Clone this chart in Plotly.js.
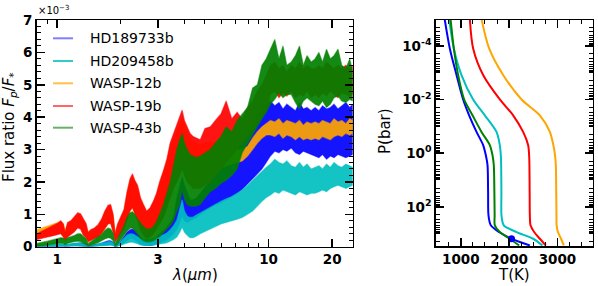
<!DOCTYPE html>
<html><head><meta charset="utf-8">
<script src="https://cdn.plot.ly/plotly-3.0.1.min.js"></script>
<style>html,body{margin:0;padding:0;background:#fff;} #plot{width:598px;height:286px;}</style>
</head><body><div id="plot"></div>
<script>
// ---- Left panel: emission spectra (flux ratio in units of 1e-3), lower/upper envelope of noisy spectra
const wavelength = [0.80,0.85,0.90,0.95,1.00,1.04,1.07,1.09,1.12,1.16,1.20,
 1.25,1.29,1.33,1.37,1.40,1.44,1.50,1.56,1.62,1.68,1.74,
 1.79,1.84,1.88,1.93,2.00,2.07,2.14,2.21,2.27,2.33,2.40,
 2.48,2.56,2.65,2.75,2.85,2.95,3.05,3.18,3.30,3.42,3.55,
 3.68,3.80,3.90,4.00,4.12,4.25,4.40,4.55,4.75,5.00,5.30,
 5.60,5.95,6.30,6.70,7.10,7.50,7.95,8.40,8.85,9.30,9.75,
 10.2,10.7,11.2,11.7,12.2,12.8,13.4,14.0,14.6,15.2,15.9,
 16.6,17.3,18.0,18.8,19.6,20.4,21.3,22.2,23.2,24.2,25.0];

const names = ['HD189733b','HD209458b','WASP-12b','WASP-19b','WASP-43b'];
const colors = ['#0000ff','#00bfbf','#ffa500','#ff0000','#008000'];
const fills = ['rgba(0,0,255,0.92)','rgba(0,191,191,0.92)','rgba(255,165,0,0.92)','rgba(255,0,0,0.92)','rgba(0,128,0,0.92)'];
const edges = ['rgba(0,0,255,0.5)','rgba(0,191,191,0.5)','rgba(255,165,0,0.5)','rgba(255,0,0,0.5)','rgba(0,128,0,0.5)'];
const legendColors = ['rgba(0,0,255,0.5)','rgba(0,191,191,0.8)','rgba(255,165,0,0.7)','rgba(255,0,0,0.6)','rgba(0,128,0,0.6)'];

const hd189733b_hi = [0.04,0.04,0.05,0.05,0.06,0.07,0.07,0.05,0.07,0.08,0.09,
 0.12,0.12,0.09,0.07,0.03,0.04,0.06,0.08,0.11,0.15,0.18,
 0.18,0.14,0.03,0.08,0.18,0.30,0.45,0.52,0.55,0.50,0.40,
 0.30,0.22,0.18,0.18,0.22,0.30,0.40,0.50,0.60,0.75,0.90,
 1.50,1.90,2.15,1.90,1.65,1.45,1.45,1.50,1.65,1.85,2.00,
 2.20,2.40,2.60,2.85,3.05,3.25,3.50,3.85,4.10,4.25,4.40,
 4.50,4.35,4.45,4.25,4.40,4.30,4.20,4.45,4.25,4.30,4.20,
 4.30,4.20,4.35,4.25,4.30,4.40,4.25,4.35,4.45,4.30,4.40];
const hd189733b_lo = [0.00,0.00,0.01,0.01,0.01,0.02,0.02,0.01,0.02,0.02,0.03,
 0.03,0.03,0.02,0.01,0.00,0.01,0.01,0.02,0.03,0.05,0.06,
 0.07,0.05,0.00,0.02,0.06,0.12,0.20,0.25,0.26,0.22,0.15,
 0.08,0.05,0.04,0.04,0.05,0.08,0.12,0.16,0.22,0.30,0.40,
 0.55,0.75,0.95,0.80,0.75,0.80,0.85,0.90,1.00,1.10,1.20,
 1.30,1.36,1.45,1.55,1.65,1.77,1.95,2.10,2.25,2.40,2.60,
 2.80,2.95,2.90,3.00,2.95,3.05,2.90,2.85,2.95,2.90,2.85,
 2.80,2.75,2.85,2.70,2.80,2.75,2.85,2.80,2.75,2.80,2.85];

const hd209458b_hi = [0.04,0.05,0.06,0.06,0.07,0.08,0.08,0.05,0.08,0.09,0.10,
 0.12,0.12,0.08,0.06,0.03,0.04,0.06,0.08,0.10,0.13,0.16,
 0.16,0.12,0.03,0.07,0.16,0.26,0.36,0.40,0.40,0.36,0.30,
 0.25,0.22,0.22,0.24,0.26,0.28,0.32,0.37,0.42,0.52,0.65,
 0.82,1.20,1.45,1.10,0.95,0.90,0.92,0.98,1.05,1.12,1.22,
 1.30,1.40,1.48,1.55,1.65,1.75,1.90,2.05,2.20,2.35,2.45,
 2.55,2.70,2.60,2.55,2.65,2.50,2.45,2.60,2.45,2.55,2.40,
 2.45,2.50,2.40,2.55,2.45,2.60,2.50,2.45,2.55,2.50,2.45];
const hd209458b_lo = [0.00,0.00,0.00,0.01,0.01,0.01,0.01,0.00,0.01,0.02,0.02,
 0.02,0.02,0.01,0.00,0.00,0.00,0.01,0.01,0.02,0.03,0.04,
 0.05,0.03,0.00,0.01,0.04,0.08,0.12,0.14,0.14,0.12,0.09,
 0.05,0.04,0.04,0.04,0.05,0.06,0.08,0.10,0.12,0.16,0.22,
 0.30,0.45,0.60,0.45,0.35,0.28,0.28,0.32,0.40,0.48,0.55,
 0.62,0.70,0.75,0.80,0.85,0.90,1.00,1.10,1.25,1.40,1.52,
 1.60,1.70,1.65,1.75,1.70,1.65,1.60,1.70,1.65,1.60,1.65,
 1.65,1.70,1.75,1.70,1.80,1.85,1.90,1.85,1.80,1.85,1.90];

const wasp12b_hi = [0.52,0.58,0.63,0.68,0.74,0.78,0.70,0.50,0.72,0.78,0.86,
 1.00,0.97,0.80,0.68,0.42,0.48,0.55,0.64,0.80,1.05,1.22,
 1.25,0.95,0.40,0.66,0.90,1.12,1.62,2.02,2.15,1.98,1.82,
 1.45,1.25,1.05,1.15,1.35,1.58,1.92,2.25,2.60,3.05,3.35,
 3.60,3.80,4.00,3.75,3.55,3.35,3.25,3.20,3.15,3.20,3.25,
 3.20,3.20,3.20,3.10,3.00,3.00,3.10,3.35,3.55,3.70,3.80,
 3.90,3.85,3.95,3.80,3.90,3.85,3.80,3.90,3.75,3.85,3.80,
 3.85,3.80,3.90,3.85,3.80,3.95,3.85,3.90,3.80,3.95,3.90];
const wasp12b_lo = [0.25,0.28,0.32,0.35,0.38,0.42,0.32,0.20,0.32,0.40,0.47,
 0.60,0.57,0.38,0.30,0.17,0.22,0.27,0.32,0.42,0.57,0.72,
 0.74,0.47,0.17,0.27,0.44,0.57,0.87,1.12,1.22,1.02,0.82,
 0.55,0.38,0.28,0.33,0.43,0.58,0.73,0.93,1.22,1.52,1.82,
 2.10,2.30,2.50,2.30,2.10,2.00,1.90,1.90,1.90,2.00,2.10,
 2.30,2.40,2.50,2.55,2.60,2.65,2.80,3.00,3.20,3.35,3.45,
 3.45,3.40,3.50,3.35,3.45,3.40,3.30,3.40,3.30,3.35,3.30,
 3.35,3.30,3.40,3.35,3.30,3.40,3.45,3.40,3.50,3.45,3.50];

const wasp19b_hi = [0.40,0.48,0.58,0.65,0.72,0.80,0.70,0.45,0.75,0.80,0.90,
 1.05,1.02,0.85,0.72,0.45,0.52,0.58,0.68,0.85,1.10,1.28,
 1.30,1.00,0.40,0.70,0.95,1.15,1.70,2.10,2.25,2.05,1.90,
 1.50,1.30,1.10,1.20,1.40,1.65,2.00,2.35,2.70,3.20,3.50,
 3.80,4.00,4.22,3.90,3.70,3.50,3.40,3.35,3.30,3.65,3.70,
 3.90,4.10,4.50,3.95,4.15,3.95,4.30,4.50,4.80,5.00,5.30,
 5.60,5.70,5.50,5.60,5.40,5.60,5.50,5.70,5.50,5.60,5.50,
 5.50,5.60,5.50,5.70,5.60,5.50,5.60,5.50,5.60,5.50,5.60];
const wasp19b_lo = [0.22,0.26,0.30,0.33,0.36,0.40,0.30,0.18,0.30,0.38,0.45,
 0.58,0.55,0.35,0.28,0.15,0.20,0.25,0.30,0.40,0.55,0.70,
 0.72,0.45,0.15,0.25,0.42,0.55,0.85,1.10,1.20,1.00,0.80,
 0.50,0.35,0.25,0.30,0.40,0.55,0.70,0.90,1.20,1.50,1.80,
 2.00,2.20,2.40,2.20,2.00,1.90,1.80,1.80,1.80,1.90,2.00,
 2.20,2.40,2.60,2.80,3.00,3.20,3.40,3.60,3.80,4.00,4.20,
 4.70,4.80,4.60,4.75,4.65,4.80,4.60,4.70,4.65,4.80,4.60,
 4.70,4.60,4.75,4.65,4.80,4.70,4.60,4.75,4.70,4.65,4.70];

const wasp43b_hi = [0.10,0.13,0.17,0.21,0.25,0.28,0.27,0.20,0.28,0.31,0.34,
 0.40,0.40,0.32,0.25,0.10,0.15,0.22,0.30,0.38,0.50,0.58,
 0.55,0.42,0.10,0.25,0.45,0.65,0.90,1.05,1.08,1.00,0.85,
 0.72,0.62,0.55,0.55,0.62,0.78,1.00,1.30,1.65,2.00,2.50,
 3.00,3.30,3.50,3.20,3.00,2.85,2.80,2.75,2.80,2.90,3.00,
 3.20,3.40,3.70,3.55,3.90,4.10,4.30,4.90,5.00,5.60,5.80,
 6.10,6.40,5.80,6.20,5.60,5.70,5.90,6.20,5.60,5.90,5.70,
 5.80,6.00,5.70,6.10,5.80,5.90,6.10,5.60,5.50,5.80,5.40];
const wasp43b_lo = [0.02,0.03,0.05,0.07,0.09,0.11,0.10,0.06,0.11,0.13,0.15,
 0.17,0.16,0.10,0.07,0.02,0.04,0.08,0.12,0.18,0.24,0.28,
 0.26,0.18,0.02,0.08,0.22,0.35,0.48,0.57,0.58,0.50,0.38,
 0.25,0.18,0.15,0.15,0.18,0.25,0.31,0.45,0.55,0.65,0.80,
 1.10,1.30,1.75,1.45,1.30,1.25,1.25,1.25,1.30,1.50,1.70,
 1.80,1.95,2.05,2.20,2.40,2.90,3.15,3.45,3.70,3.95,4.15,
 4.40,4.55,4.75,4.60,4.70,4.70,4.45,4.25,4.50,4.60,4.50,
 4.40,4.35,4.50,4.30,4.40,4.60,4.65,4.50,4.45,4.55,4.50];

const xTickVals = [1, 3, 10, 20];
const xTickText = ['1', '3', '10', '20'];

// ---- Right panel: temperature-pressure profiles
const pressure = [1e-5, 1.26e-4, 1.23e-3, 1.0e-2, 3.9e-2, 0.162, 0.50, 1.20, 2.82, 31.6, 209, 490, 871, 1549, 2754];
const T_hd189733b = [665, 772, 911, 1048, 1172, 1325, 1462, 1518, 1553, 1565, 1573, 1621, 1790, 2050, 2429];
const T_hd209458b = [758, 855, 1014, 1255, 1497, 1739, 1807, 1828, 1835, 1840, 1842, 1890, 2153, 2497, 2690];
const T_wasp12b   = [1428, 1586, 1876, 2257, 2636, 2843, 2915, 2950, 2967, 2975, 2980, 2983, 3010, 3075, 3133];
const T_wasp19b   = [1186, 1255, 1462, 1807, 2083, 2290, 2393, 2414, 2420, 2425, 2429, 2443, 2518, 2636, 2760];
const T_wasp43b   = [787, 855, 944, 1068, 1242, 1428, 1600, 1656, 1683, 1695, 1700, 1704, 1807, 2014, 2207];
const markerT = [2050];
const markerP = [1549];
const pTickVals = [1e-4, 1e-2, 1, 100];
const pTickText = ['10<sup>-4</sup>', '10<sup>-2</sup>', '10<sup>0</sup>', '10<sup>2</sup>'];
const tTickVals = [1000, 2000, 3000];

// ---- build traces
const his = [hd189733b_hi, hd209458b_hi, wasp12b_hi, wasp19b_hi, wasp43b_hi];
const los = [hd189733b_lo, hd209458b_lo, wasp12b_lo, wasp19b_lo, wasp43b_lo];
const temps = [T_hd189733b, T_hd209458b, T_wasp12b, T_wasp19b, T_wasp43b];
const traces = [];
for (let i = 0; i < names.length; i++) {
  const xr = wavelength.slice().reverse();
  const yr = los[i].slice().reverse();
  traces.push({
    type: 'scatter', mode: 'lines', name: names[i],
    x: wavelength.concat(xr), y: his[i].concat(yr),
    fill: 'toself', fillcolor: fills[i],
    line: {color: edges[i], width: 1.2},
    xaxis: 'x', yaxis: 'y', hoverinfo: 'skip', showlegend: false
  });
}
for (let i = 0; i < names.length; i++) {
  traces.push({
    type: 'scatter', mode: 'lines', name: names[i],
    x: temps[i], y: pressure,
    line: {color: colors[i], width: 2, shape: 'spline', smoothing: 0.8},
    xaxis: 'x2', yaxis: 'y2', hoverinfo: 'skip', showlegend: false
  });
}
traces.push({type:'scatter', mode:'markers', x: markerT, y: markerP,
  marker:{color:'#0000ff', size:7}, xaxis:'x2', yaxis:'y2', showlegend:false, hoverinfo:'skip'});

// minor ticks for log pressure axis
const pMinor = [];
for (let n = -5; n <= 3; n++) for (let k = 1; k <= 9; k++) pMinor.push(k * Math.pow(10, n));

const W = 598, H = 286;
const fx = v => v / W, fy = v => 1 - v / H;
const tickFont = {family: 'DejaVu Sans', size: 13.5, color: 'black', weight: 'bold'};
const axBase = {ticks: 'inside', ticklen: 8, tickwidth: 1.5, tickcolor: 'black', showline: true,
  linecolor: 'black', linewidth: 1.5, mirror: 'ticks', showgrid: false, zeroline: false,
  tickfont: tickFont, automargin: false, fixedrange: true};
const minorBase = {ticks: 'inside', ticklen: 4, tickwidth: 1, tickcolor: 'black', showgrid: false};

const legendY = [38.3, 61, 83.3, 106, 127.7];
const shapes = [], annotations = [];
for (let i = 0; i < names.length; i++) {
  shapes.push({type: 'line', xref: 'paper', yref: 'paper', x0: fx(53), x1: fx(73), y0: fy(legendY[i]), y1: fy(legendY[i]),
    line: {color: legendColors[i], width: 2}});
  annotations.push({xref: 'paper', yref: 'paper', x: fx(88), y: fy(legendY[i]), xanchor: 'left', yanchor: 'middle',
    text: names[i], showarrow: false, font: {family: 'DejaVu Sans', size: 14, color: 'black'}});
}
annotations.push({xref:'paper', yref:'paper', x: fx(9), y: fy(127), xanchor:'center', yanchor:'middle', textangle: -90,
  text: 'Flux ratio <i>F<sub>p</sub></i>/<i>F</i><sub>*</sub>', showarrow:false, font:{family:'DejaVu Sans', size:15, color:'black'}});
annotations.push({xref:'paper', yref:'paper', x: fx(194.7), y: fy(275), xanchor:'center', yanchor:'middle',
  text: '<i>λ</i>(<i>μm</i>)', showarrow:false, font:{family:'DejaVu Sans', size:15, color:'black'}});
annotations.push({xref:'paper', yref:'paper', x: fx(36), y: fy(18), xanchor:'left', yanchor:'bottom',
  text: '×10<sup>−3</sup>', showarrow:false, font:{family:'DejaVu Sans', size:10, color:'black'}});
annotations.push({xref:'paper', yref:'paper', x: fx(514), y: fy(275), xanchor:'center', yanchor:'middle',
  text: 'T(K)', showarrow:false, font:{family:'DejaVu Sans', size:15, color:'black'}});
annotations.push({xref:'paper', yref:'paper', x: fx(385), y: fy(131), xanchor:'center', yanchor:'middle', textangle: -90,
  text: 'P(bar)', showarrow:false, font:{family:'DejaVu Sans', size:15, color:'black'}});

const layout = {
  width: W, height: H, margin: {l: 0, r: 0, t: 0, b: 0},
  paper_bgcolor: 'white', plot_bgcolor: 'white', showlegend: false,
  font: {family: 'DejaVu Sans', size: 13.5, color: 'black'},
  xaxis: Object.assign({}, axBase, {domain: [fx(36.7), fx(352.7)], type: 'log',
    range: [Math.log10(0.8), Math.log10(25)], tickmode: 'array', tickvals: xTickVals, ticktext: xTickText,
    minor: Object.assign({}, minorBase, {tickmode: 'array', tickvals: [0.9, 2, 4, 5, 6, 7, 8, 9]}), anchor: 'y'}),
  yaxis: Object.assign({}, axBase, {domain: [fy(246.7), fy(20)], range: [0, 7], tickmode: 'linear', tick0: 0, dtick: 1,
    minor: Object.assign({}, minorBase, {tick0: 0, dtick: 0.2}), anchor: 'x'}),
  xaxis2: Object.assign({}, axBase, {domain: [fx(435.7), fx(592.7)], range: [480, 3730],
    tickmode: 'array', tickvals: tTickVals,
    minor: Object.assign({}, minorBase, {tick0: 0, dtick: 250}), anchor: 'y2'}),
  yaxis2: Object.assign({}, axBase, {domain: [fy(246), fy(20)], type: 'log', range: [3.46, -4.96],
    tickmode: 'array', tickvals: pTickVals, ticktext: pTickText,
    minor: Object.assign({}, minorBase, {tickmode: 'array', tickvals: pMinor}), anchor: 'x2'}),
  shapes: shapes, annotations: annotations
};
Plotly.newPlot('plot', traces, layout, {staticPlot: true, displayModeBar: false});
</script></body></html>
